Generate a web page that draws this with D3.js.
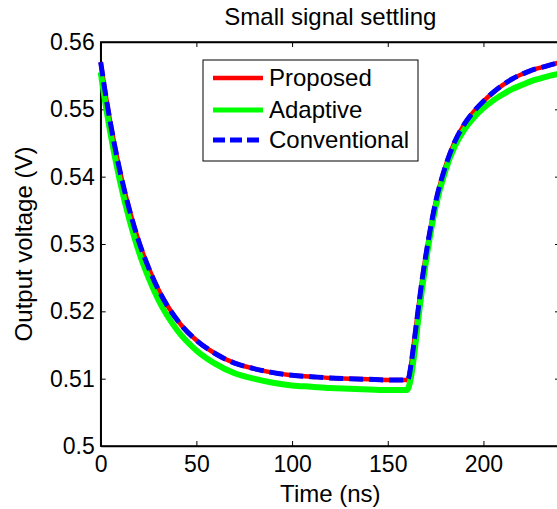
<!DOCTYPE html>
<html lang="en">
	<head>
		<meta charset="utf-8">
		<title>Small signal settling</title>
		<script type="text/javascript" src="https://cdn.jsdelivr.net/npm/d3@7"></script>
		<style type="text/css">
			body { margin: 0; background: #fff; }
			text { font-family: Arial, "Liberation Sans", sans-serif; fill: #000; }
		</style>
	</head>
	<body>
		<script type="text/javascript">

			//Data
			var time = [0, 2, 5, 10, 15, 20, 25, 30, 40, 50, 60, 70, 80, 90, 100, 110, 120, 130, 140, 150, 158, 160,
						161, 162, 164, 166, 168, 170, 175, 180, 185, 190, 195, 200, 205, 210, 215, 220, 225, 230, 235, 240];

			var proposed = [0.5570, 0.5532, 0.5481, 0.5409, 0.5351, 0.5303, 0.5265, 0.5233, 0.5187, 0.5157, 0.5137, 0.5123, 0.5115, 0.5109, 0.5105, 0.5103, 0.5101, 0.5100, 0.5099, 0.5098, 0.5098, 0.5098,
							0.5102, 0.5118, 0.5160, 0.5205, 0.5248, 0.5285, 0.5362, 0.5414, 0.5452, 0.5478, 0.5497, 0.5512, 0.5525, 0.5536, 0.5545, 0.5552, 0.5558, 0.5562, 0.5566, 0.5570];

			var adaptive = [0.5555, 0.5517, 0.5466, 0.5394, 0.5336, 0.5288, 0.5250, 0.5218, 0.5172, 0.5142, 0.5122, 0.5108, 0.5100, 0.5094, 0.5090, 0.5088, 0.5086, 0.5085, 0.5084, 0.5083, 0.5083, 0.5083,
							0.5088, 0.5100, 0.5140, 0.5190, 0.5235, 0.5275, 0.5355, 0.5408, 0.5445, 0.5470, 0.5488, 0.5502, 0.5513, 0.5522, 0.5530, 0.5536, 0.5542, 0.5546, 0.5550, 0.5553];

			var conventional = [0.5570, 0.5532, 0.5481, 0.5409, 0.5351, 0.5303, 0.5265, 0.5233, 0.5187, 0.5157, 0.5137, 0.5123, 0.5115, 0.5109, 0.5105, 0.5103, 0.5101, 0.5100, 0.5099, 0.5098, 0.5098, 0.5098,
							0.5102, 0.5118, 0.5160, 0.5205, 0.5248, 0.5285, 0.5362, 0.5414, 0.5452, 0.5478, 0.5497, 0.5512, 0.5525, 0.5536, 0.5545, 0.5552, 0.5558, 0.5562, 0.5566, 0.5570];

			var xTicks = [0, 50, 100, 150, 200];
			var yTicks = [0.5, 0.51, 0.52, 0.53, 0.54, 0.55, 0.56];
			var yTickLabels = ["0.5", "0.51", "0.52", "0.53", "0.54", "0.55", "0.56"];
			var seriesNames = ["Proposed", "Adaptive", "Conventional"];

			//Width and height
			var w = 557;
			var h = 509;
			var pLeft = 100.7, pRight = 560, pTop = 42, pBottom = 446;
			var fs = 23;

			var svg = d3.select("body")
						.append("svg")
						.attr("width", w)
						.attr("height", h);

			var x = d3.scaleLinear().domain([0, 240]).range([pLeft, pRight]);
			var y = d3.scaleLinear().domain([0.5, 0.56]).range([pBottom, pTop]);

			//Axes, ticks pointing inward
			svg.append("g")
				.attr("transform", "translate(0," + pBottom + ")")
				.call(d3.axisBottom(x).tickValues(xTicks).tickSizeInner(-5).tickSizeOuter(0).tickPadding(10).tickFormat(d3.format("d")));
			svg.append("g")
				.attr("transform", "translate(" + pLeft + ",0)")
				.call(d3.axisLeft(y).tickValues(yTicks).tickSizeInner(-5).tickSizeOuter(0).tickPadding(6)
					.tickFormat(function(d, i) { return yTickLabels[i]; }));
			svg.append("g")
				.attr("transform", "translate(0," + pTop + ")")
				.call(d3.axisTop(x).tickValues(xTicks).tickSizeInner(-5).tickSizeOuter(0).tickFormat(""));
			svg.append("g")
				.attr("transform", "translate(" + pRight + ",0)")
				.call(d3.axisRight(y).tickValues(yTicks).tickSizeInner(-5).tickSizeOuter(0).tickFormat(""));

			svg.selectAll(".domain").attr("stroke", "#000").attr("stroke-width", 1.5);
			svg.selectAll(".tick line").attr("stroke", "#000");
			svg.selectAll(".tick text").style("font-size", fs + "px").style("font-family", "Arial, 'Liberation Sans', sans-serif").attr("fill", "#000");

			svg.append("rect")
				.attr("x", pLeft).attr("y", pTop)
				.attr("width", pRight - pLeft).attr("height", pBottom - pTop)
				.attr("fill", "none").attr("stroke", "#000").attr("stroke-width", 1.5);

			//Lines
			var line = function(vals) {
				return d3.line()
					.x(function(d, i) { return x(time[i]); })
					.y(function(d) { return y(d); })
					.curve(d3.curveMonotoneX)(vals);
			};

			svg.append("path").attr("d", line(proposed))
				.attr("fill", "none").attr("stroke", "#ff0000").attr("stroke-width", 4.5);
			svg.append("path").attr("d", line(adaptive))
				.attr("fill", "none").attr("stroke", "#00ff00").attr("stroke-width", 6);
			svg.append("path").attr("d", line(conventional))
				.attr("fill", "none").attr("stroke", "#0000ff").attr("stroke-width", 5)
				.attr("stroke-dasharray", "14,6");

			//Title and labels
			svg.append("text").attr("x", (pLeft + pRight) / 2).attr("y", 25)
				.attr("text-anchor", "middle").style("font-size", "24px")
				.text("Small signal settling");
			svg.append("text").attr("x", (pLeft + pRight) / 2).attr("y", 502)
				.attr("text-anchor", "middle").style("font-size", "24px")
				.text("Time (ns)");
			svg.append("text")
				.attr("transform", "translate(32," + (pTop + pBottom) / 2 + ") rotate(-90)")
				.attr("text-anchor", "middle").style("font-size", "24px")
				.text("Output voltage (V)");

			//Legend
			var lg = svg.append("g");
			lg.append("rect").attr("x", 203).attr("y", 60).attr("width", 215).attr("height", 101)
				.attr("fill", "#fff").attr("stroke", "#000").attr("stroke-width", 1);
			var colors = ["#ff0000", "#00ff00", "#0000ff"];
			var widths = [4.5, 5, 5];
			var rows = [78, 110, 140];
			seriesNames.forEach(function(name, i) {
				lg.append("line").attr("x1", 213).attr("x2", 263).attr("y1", rows[i]).attr("y2", rows[i])
					.attr("stroke", colors[i]).attr("stroke-width", widths[i])
					.attr("stroke-dasharray", i == 2 ? "12,5" : null);
				lg.append("text").attr("x", 269).attr("y", rows[i] + 8)
					.style("font-size", "24px").text(name);
			});

		</script>
	</body>
</html>
